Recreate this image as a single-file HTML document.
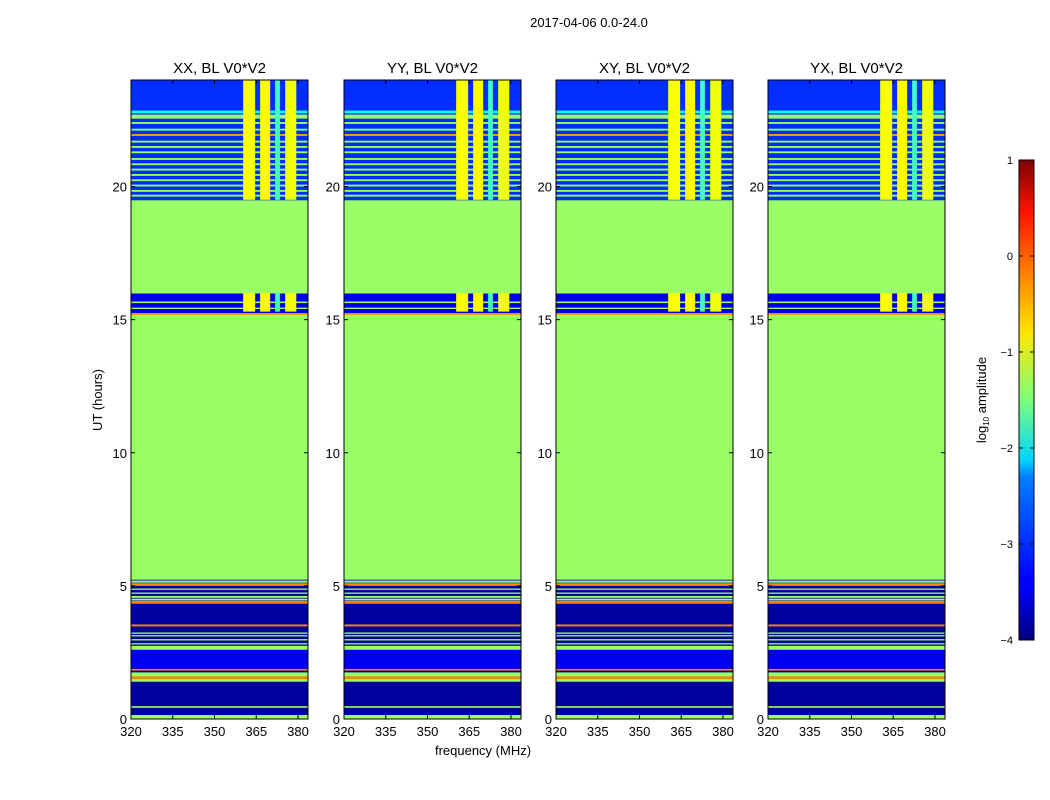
<!DOCTYPE html>
<html><head><meta charset="utf-8"><style>
body{margin:0;background:#fff;}
svg{display:block;font-family:"Liberation Sans","DejaVu Sans",sans-serif;}
</style></head><body>
<svg id="fig" width="1050" height="800" viewBox="0 0 1050 800">
<rect width="1050" height="800" fill="#fff"/>
<text x="589" y="27" font-size="13" text-anchor="middle">2017-04-06 0.0-24.0</text>
<text x="483" y="755" font-size="13" text-anchor="middle">frequency (MHz)</text>
<text transform="translate(102,400) rotate(-90)" font-size="13" text-anchor="middle">UT (hours)</text>
<defs>
<linearGradient id="jet" x1="0" y1="1" x2="0" y2="0">
<stop offset="0" stop-color="#00007f"/><stop offset="0.11" stop-color="#0000ff"/>
<stop offset="0.125" stop-color="#0000ff"/><stop offset="0.34" stop-color="#0080ff"/>
<stop offset="0.375" stop-color="#00d4ff"/><stop offset="0.5" stop-color="#7dff7a"/>
<stop offset="0.64" stop-color="#ffe600"/><stop offset="0.75" stop-color="#ff8c00"/>
<stop offset="0.89" stop-color="#ff1400"/><stop offset="1" stop-color="#7f0000"/>
</linearGradient>
</defs>
<g>
<rect x="1019" y="160" width="15" height="480" fill="url(#jet)" stroke="#000" stroke-width="1"/>
</g>
<text transform="translate(986,400) rotate(-90)" font-size="13" text-anchor="middle">log<tspan font-size="8" dy="3">10</tspan><tspan dy="-3"> amplitude</tspan></text>
<g id="panels"></g>
<g id="cbticks"></g>
</svg>
<script>
// base regions: start UT, end UT, log10 amplitude
const baseStart = [0,    5.25, 15.25, 16.0, 19.5];
const baseEnd   = [5.25, 15.25, 16.0, 19.5, 24.0];
const baseVal   = [-3.85, -1.37, -3.5, -1.37, -3.15];
// full-width bands: start UT, end UT, log10 amplitude
const bandStart = [0,   0.42, 1.4, 1.5, 1.6,  1.82, 1.9, 2.6, 2.8, 2.95, 3.1, 3.2, 3.48, 4.33, 4.45, 4.55, 4.7, 4.85, 5.0, 5.12, 15.18, 15.4, 15.62, 22.75, 22.55];
const bandEnd   = [0.15,0.48, 1.5, 1.6, 1.75, 1.88, 2.6, 2.75,2.85,3.0, 3.15, 3.25,3.55, 4.43, 4.52, 4.62, 4.75,4.9,  5.1, 5.2,  15.25, 15.45,15.68, 22.85, 22.7];
const bandVal   = [-1.37,-1.37,-1.37,-0.3, -1.37,-0.3, -3.45,-1.37,-1.37,-1.37,-1.37,-1.37,-0.3,-0.3, -1.37,-1.37,-1.37,-1.37,-0.3, -1.37,-0.3, -1.37,-1.37, -2.1, -1.37];
// green stripes in the upper noisy region
const stripeUT  = [22.35, 22.1, 21.9, 21.65, 21.45, 21.25, 21.0, 20.8, 20.6, 20.4, 20.2, 20.0, 19.8, 19.62];
const stripeVal = [-1.37, -1.37, -0.4, -1.37, -1.37, -1.37, -1.37, -1.37, -1.37, -1.37, -1.37, -1.37, -1.37, -1.37];
// RFI columns (MHz) in noisy zones
const rfiStart = [360.3, 366.4, 371.8, 375.4];
const rfiEnd   = [364.6, 370.0, 373.5, 379.4];
const rfiVal   = [-0.9, -0.85, -1.8, -0.95];
const rfiZoneStart = [15.3, 19.5];
const rfiZoneEnd   = [16.0, 24.0];
const panelTitles = ["XX, BL V0*V2","YY, BL V0*V2","XY, BL V0*V2","YX, BL V0*V2"];
const panelX = [131, 344, 556, 768];
const xTicks = [320,335,350,365,380];
const yTicks = [0,5,10,15,20];
const cbTicks = [1,0,-1,-2,-3,-4];

const NS="http://www.w3.org/2000/svg";
function jet(v){let x=(v+4)/5;x=Math.max(0,Math.min(1,x));
 const c=t=>Math.round(255*Math.max(0,Math.min(1,1.5-Math.abs(4*x-t))));
 return `rgb(${c(3)},${c(2)},${c(1)})`;}
function mk(tag,attrs,parent){const e=document.createElementNS(NS,tag);for(const k in attrs)e.setAttribute(k,attrs[k]);parent.appendChild(e);return e;}
const PW=177, PT=80, PB=719;
const yS=h=>PB-(PB-PT)*h/24;
const root=document.getElementById('panels');
panelX.forEach((x0,pi)=>{
 const xS=f=>x0+(f-320)*(PW/63.6);
 const g=mk('g',{},root);
 
 
 for(let i=0;i<baseStart.length;i++){
  const r=mk('rect',{x:x0,y:yS(baseEnd[i]),width:PW,height:yS(baseStart[i])-yS(baseEnd[i])+0.5,fill:jet(baseVal[i])},g);
  
  
 }
 for(let i=0;i<bandStart.length;i++){
  const r=mk('rect',{x:x0,y:yS(bandEnd[i]),width:PW,height:Math.max(1.2,yS(bandStart[i])-yS(bandEnd[i])),fill:jet(bandVal[i])},g);
  
  
 }
 for(let i=0;i<stripeUT.length;i++){
  const r=mk('rect',{x:x0,y:yS(stripeUT[i]+0.07),width:PW,height:yS(stripeUT[i])-yS(stripeUT[i]+0.07),fill:jet(stripeVal[i])},g);
  
  
 }
 for(let z=0;z<rfiZoneStart.length;z++)for(let i=0;i<rfiStart.length;i++){
  const r=mk('rect',{x:xS(rfiStart[i]),y:yS(rfiZoneEnd[z]),width:xS(rfiEnd[i])-xS(rfiStart[i]),height:yS(rfiZoneStart[z])-yS(rfiZoneEnd[z]),fill:jet(rfiVal[i])},g);
  
  
 }
 mk('rect',{x:x0,y:PT,width:PW,height:PB-PT,fill:'none',stroke:'#000','stroke-width':1},g);
 const t=mk('text',{x:x0+PW/2,y:73,'font-size':15,'text-anchor':'middle'},g);t.textContent=panelTitles[pi];
 
 
 xTicks.forEach(v=>{const x=xS(v);mk('line',{x1:x,x2:x,y1:PB,y2:PB-4,stroke:'#000'},g);mk('line',{x1:x,x2:x,y1:PT,y2:PT+4,stroke:'#000'},g);
  const l=mk('text',{x:x,y:PB+17,'font-size':13,'text-anchor':'middle'},g);l.textContent=v;
  
  });
 yTicks.forEach(v=>{const y=yS(v);mk('line',{x1:x0,x2:x0+4,y1:y,y2:y,stroke:'#000'},g);mk('line',{x1:x0+PW,x2:x0+PW-4,y1:y,y2:y,stroke:'#000'},g);
  const l=mk('text',{x:x0-4,y:y+5,'font-size':13,'text-anchor':'end'},g);l.textContent=v;
  
  });
});
const cb=document.getElementById('cbticks');
cbTicks.forEach(v=>{const y=640-(v+4)/5*480;
 mk('line',{x1:1019,x2:1023,y1:y,y2:y,stroke:'#000'},cb);mk('line',{x1:1034,x2:1030,y1:y,y2:y,stroke:'#000'},cb);
 const l=mk('text',{x:1013,y:y+4,'font-size':11,'text-anchor':'end'},cb);l.textContent=v<0?'\u2212'+(-v):v;
 
 });
</script>
</body></html>
